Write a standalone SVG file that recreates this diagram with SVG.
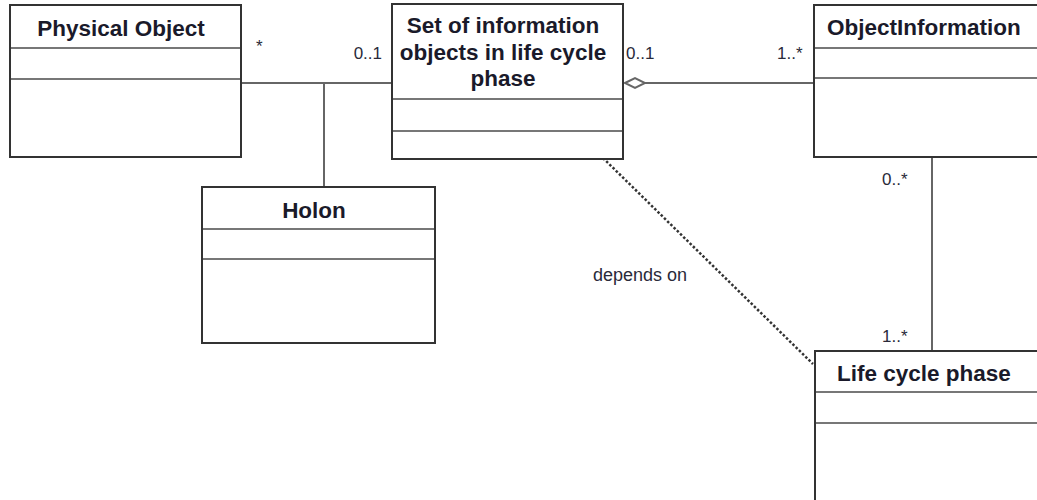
<svg xmlns="http://www.w3.org/2000/svg" width="1037" height="500" viewBox="0 0 1037 500">
<style>
.box{fill:#fff;stroke:#333;stroke-width:2}
.sep{stroke:#777;stroke-width:2}
.title{font-family:"Liberation Sans",Arial,sans-serif;font-weight:bold;font-size:22.5px;fill:#1a1a2a}
.mult{font-family:"Liberation Sans",Arial,sans-serif;font-size:17px;fill:#2a2a3a}
.conn{stroke:#666;stroke-width:2;fill:none}
.dep{stroke:#333;stroke-width:2.5;stroke-dasharray:2.5 2;fill:none}
</style>
<rect width="1037" height="500" fill="#fff"/>
<g id="connectors">
<line class="conn" x1="241" y1="83" x2="392" y2="83"/>
<line class="conn" x1="324" y1="83" x2="324" y2="187"/>
<line class="conn" x1="645" y1="83" x2="814" y2="83"/>
<polygon points="625,83 635,78 645,83 635,88" fill="#fff" stroke="#666" stroke-width="2"/>
<line class="conn" x1="932" y1="157" x2="932" y2="351"/>
<line class="dep" x1="603" y1="158" x2="813" y2="364"/>
<text class="mult" x="256" y="52">*</text>
<text class="mult" x="382" y="59" text-anchor="end">0..1</text>
<text class="mult" x="626" y="59">0..1</text>
<text class="mult" x="777" y="59">1..*</text>
<text class="mult" x="882" y="185">0..*</text>
<text class="mult" x="882" y="342">1..*</text>
<text class="mult" x="593" y="281" style="font-size:18px">depends on</text>
</g>
<g id="physical-object">
<rect class="box" x="10" y="5" width="231" height="152"/>
<line class="sep" x1="11" y1="48" x2="240" y2="48"/>
<line class="sep" x1="11" y1="79" x2="240" y2="79"/>
<text class="title" x="121" y="36" text-anchor="middle">Physical Object</text>
</g>
<g id="holon">
<rect class="box" x="202" y="187" width="233" height="156"/>
<line class="sep" x1="203" y1="229" x2="434" y2="229"/>
<line class="sep" x1="203" y1="259" x2="434" y2="259"/>
<text class="title" x="314" y="218" text-anchor="middle">Holon</text>
</g>
<g id="set-of-information">
<rect class="box" x="392" y="4" width="231" height="155"/>
<line class="sep" x1="393" y1="99" x2="622" y2="99"/>
<line class="sep" x1="393" y1="131" x2="622" y2="131"/>
<text class="title" text-anchor="middle"><tspan x="503" y="33">Set of information</tspan><tspan x="503" y="60">objects in life cycle</tspan><tspan x="503" y="86">phase</tspan></text>
</g>
<g id="object-information">
<rect class="box" x="814" y="5" width="300" height="152"/>
<line class="sep" x1="815" y1="48" x2="1037" y2="48"/>
<line class="sep" x1="815" y1="78" x2="1037" y2="78"/>
<text class="title" x="827" y="35">ObjectInformation</text>
</g>
<g id="life-cycle-phase">
<rect class="box" x="815" y="351" width="300" height="200"/>
<line class="sep" x1="816" y1="392" x2="1037" y2="392"/>
<line class="sep" x1="816" y1="423" x2="1037" y2="423"/>
<text class="title" x="837" y="381">Life cycle phase</text>
</g>
</svg>
